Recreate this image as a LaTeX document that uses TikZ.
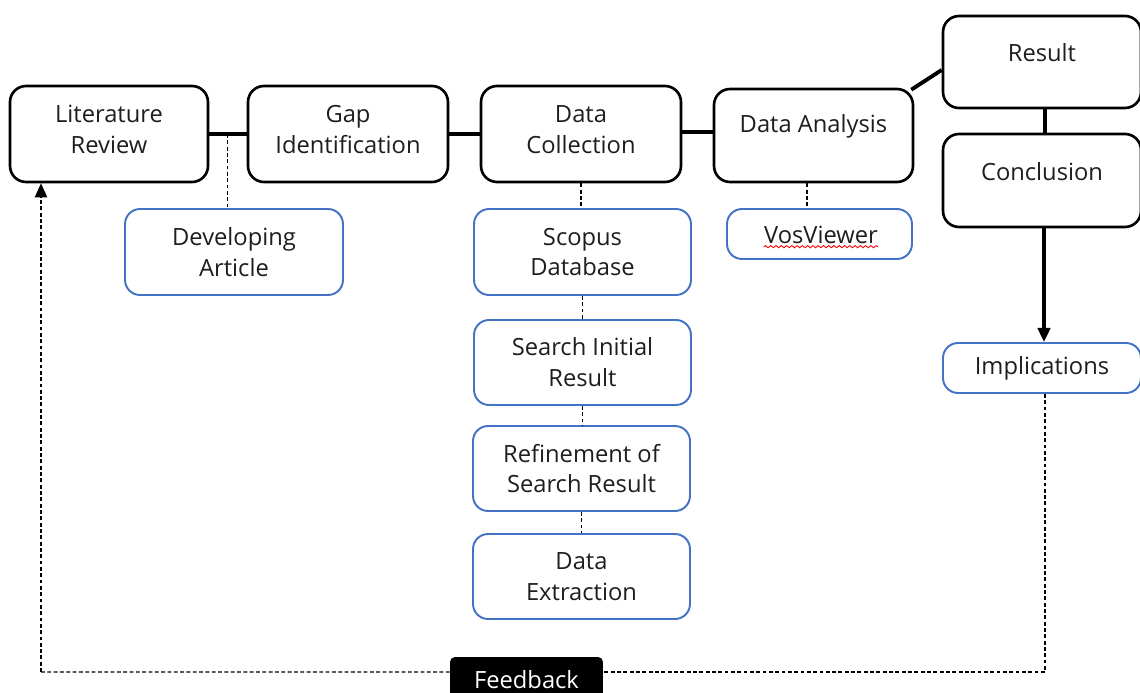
\documentclass[tikz,border=0pt]{standalone}
\usepackage{fontspec}
\setmainfont{Open Sans}
\usetikzlibrary{arrows.meta,decorations.pathmorphing,calc}
\definecolor{wordblue}{HTML}{4472C4}
\definecolor{txtgray}{HTML}{1E1E1E}
\begin{document}
\begin{tikzpicture}[x=0.02cm,y=-0.02cm,
  every node/.style={font=\fontsize{13.5}{17.6}\selectfont, align=center, inner sep=0pt, text=txtgray},
  mainbox/.style={draw=black, line width=1.5pt, rounded corners=0.32cm, fill=white},
  subbox/.style={draw=wordblue, line width=1.1pt, rounded corners=0.3cm, fill=white},
  solidlink/.style={draw=black, line width=2.2pt},
  dashlink/.style={draw=black, line width=0.8pt, dash pattern=on 2.2pt off 1.4pt},
  tipend/.style={-{Triangle[length=8pt,width=7pt]}}
]
\useasboundingbox (0,0) rectangle (1140,693);

% main (black) boxes
\node[mainbox, minimum width=3.96cm, minimum height=1.92cm] (lit) at (109,134) {};
\node (litT) at (109,129.5) {Literature\\Review};
\node[mainbox, minimum width=4.0cm, minimum height=1.92cm] (gap) at (348,134) {};
\node (gapT) at (348,129.5) {Gap\\Identification};
\node[mainbox, minimum width=4.0cm, minimum height=1.92cm] (dc) at (581,134) {};
\node (dcT) at (581,129.5) {Data\\Collection};
\node[mainbox, minimum width=3.98cm, minimum height=1.86cm] (da) at (813.5,135.5) {};
\node (daT) at (813.5,126) {Data Analysis};
\node[mainbox, minimum width=3.96cm, minimum height=1.84cm] (res) at (1042,62) {};
\node (resT) at (1042,53) {Result};
\node[mainbox, minimum width=3.96cm, minimum height=1.86cm] (con) at (1042,180.5) {};
\node (conT) at (1042,172) {Conclusion};

% sub (blue) boxes
\node[subbox, minimum width=3.96cm, minimum height=1.0cm] (imp) at (1042,368) {Implications};
\node[subbox, minimum width=4.36cm, minimum height=1.72cm] (dev) at (234,252) {Developing\\Article};
\node[subbox, minimum width=3.7cm, minimum height=1.0cm] (vos) at (819.5,234) {};
\node (vosT) at (821,235) {VosViewer};
\node[subbox, minimum width=4.34cm, minimum height=1.72cm] (sco) at (582.5,252) {Scopus\\Database};
\node[subbox, minimum width=4.34cm, minimum height=1.7cm] (sir) at (582.5,362.5) {Search Initial\\Result};
\node[subbox, minimum width=4.34cm, minimum height=1.7cm] (ref) at (581.5,468.5) {Refinement of\\Search Result};
\node[subbox, minimum width=4.34cm, minimum height=1.7cm] (dex) at (581.5,576.5) {Data\\Extraction};

% feedback
\node[fill=black, rounded corners=0.1cm, minimum width=3.06cm, minimum height=0.92cm, text=white] (fb) at (526.5,680) {Feedback};

% spell-check squiggle
\draw[red, line width=0.5pt, decorate, decoration={snake, amplitude=0.6pt, segment length=3pt}]
  ([yshift=-0.05cm]vosT.south west) -- ([yshift=-0.05cm]vosT.south east);

% solid links
\draw[solidlink] (lit.east) -- (gap.west);
\draw[solidlink] (gap.east) -- (dc.west);
\draw[solidlink] ([yshift=0.04cm]dc.east) -- ([yshift=0.04cm]dc.east -| da.west);
\draw[solidlink] ([xshift=-0.06cm,yshift=-0.04cm]da.north east) -- ([yshift=-0.16cm]res.west);
\draw[solidlink] ([xshift=0.06cm]res.south) -- ([xshift=0.06cm]con.north);
\draw[solidlink, tipend] ([xshift=0.04cm]con.south) -- ([xshift=0.04cm]imp.north);

% dashed links
\coordinate (j1) at ($(lit.east)!0.48!(gap.west)$);
\draw[dashlink] (j1) -- (j1 |- dev.north);
\draw[dashlink] (dc.south) -- (dc.south |- sco.north);
\draw[dashlink] (sco.south) -- (sir.north);
\draw[dashlink] (sir.south) -- (sir.south |- ref.north);
\draw[dashlink] (ref.south) -- (dex.north);
\draw[dashlink] ([xshift=-0.13cm]da.south) -- ([xshift=-0.13cm]da.south |- vos.north);

% feedback loop
\coordinate (fbr) at ([yshift=0.16cm]fb.east);
\coordinate (fbl) at ([yshift=0.16cm]fb.west);
\coordinate (corner) at (41,672);
\draw[dashlink] ([xshift=0.06cm]imp.south) |- (fbr);
\draw[dashlink] (fbl) -- (corner);
\draw[dashlink, tipend] (corner) -- (corner |- lit.south);
\end{tikzpicture}
\end{document}
